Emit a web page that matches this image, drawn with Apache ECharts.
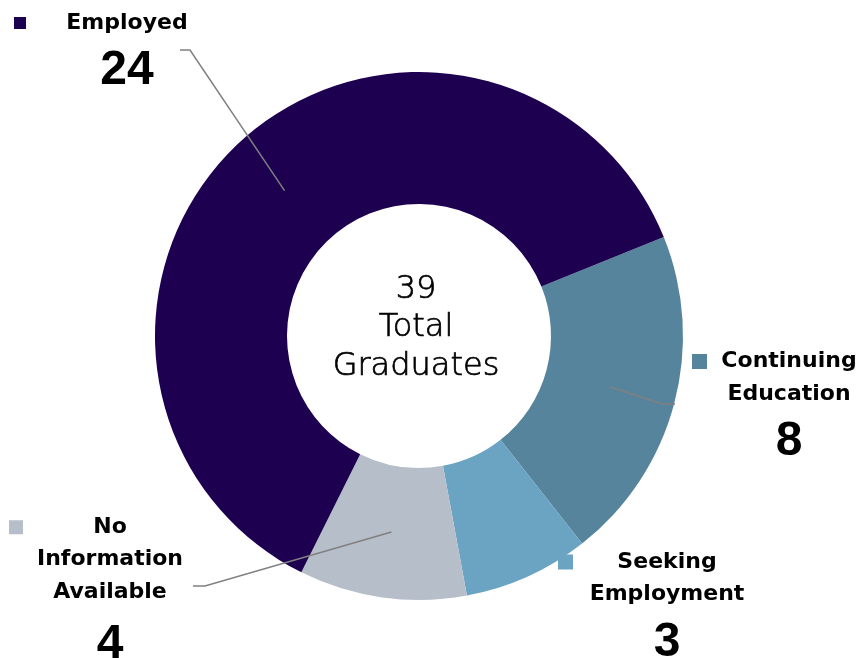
<!DOCTYPE html>
<html><head><meta charset="utf-8">
<script src="https://cdn.jsdelivr.net/npm/echarts@6/dist/echarts.min.js"></script>
<style>html,body{margin:0;padding:0;background:#fff}#c{width:862px;height:658px}</style>
</head><body><div id="c"></div>
<script>
// ---- data ----
const categories = ['Continuing Education', 'Seeking Employment', 'No Information Available', 'Employed'];
const labelLinesText = [['Continuing', 'Education'], ['Seeking', 'Employment'], ['No', 'Information', 'Available'], ['Employed']];
const values = [8, 3, 4, 24];
const centerCaption = ['Total', 'Graduates'];

// ---- style / layout (not data) ----
const colors = ['#56849c', '#6aa4c2', '#b6bec9', '#1e0050'];
const CX = 419, CY = 336, R0 = 132, R1 = 264, START = 22;
const boxes = [
  { x: 692, y: 345, sq: 15, gap: 2, w: 160, L: 33, LN: 61, elbow: [[662, 404], [675, 404]] },
  { x: 558, y: 546, sq: 15, gap: 9, w: 170, L: 32, LN: 65, elbow: null },
  { x: 9, y: 511, sq: 14, gap: 2, w: 170, L: 32.5, LN: 73, elbow: [[205, 586], [193, 586]] },
  { x: 14, y: 6, sq: 12, gap: 16, w: 170, L: 34, LN: 62, elbow: [[190, 50], [180, 50]] }
];

const total = values.reduce((a, b) => a + b, 0);
const FONT = '"DejaVu Sans", sans-serif';

function midPoint(i) {
  let cum = 0;
  for (let k = 0; k < i; k++) cum += values[k];
  const a = (START - (cum + values[i] / 2) / total * 360) * Math.PI / 180;
  const rm = (R0 + R1) / 2;
  return [CX + rm * Math.cos(a), CY - rm * Math.sin(a)];
}

const data = categories.map((name, i) => {
  const b = boxes[i];
  const lines = labelLinesText[i];
  let f = '{sq|}{g|}{t|' + lines[0] + '}';
  for (let k = 1; k < lines.length; k++) f += '\n{sp|}{t|' + lines[k] + '}';
  f += '\n{sp|}{n|' + values[i] + '}';
  return {
    name: name,
    value: values[i],
    itemStyle: { color: colors[i] },
    label: {
      formatter: f,
      rich: {
        sq: { width: b.sq, height: b.sq, backgroundColor: colors[i], lineHeight: b.L },
        g: { width: b.gap, lineHeight: b.L },
        sp: { width: b.sq + b.gap },
        t: { width: b.w, align: 'center', fontSize: 22, fontWeight: 'bold', fontFamily: FONT, color: '#000', lineHeight: b.L },
        n: { width: b.w, align: 'center', fontSize: 48, fontWeight: 'bold', fontFamily: '"Liberation Sans", Arial, sans-serif', color: '#000', lineHeight: b.LN }
      }
    }
  };
});

// leader lines drawn on top of the ring, starting at each slice's mid-ring point
const leaders = [];
boxes.forEach((b, i) => {
  if (!b.elbow) return;
  leaders.push({
    type: 'polyline', z: 100, silent: true,
    shape: { points: [midPoint(i), b.elbow[0], b.elbow[1]] },
    style: { stroke: '#808080', lineWidth: 1.5, fill: null }
  });
});

const chart = echarts.init(document.getElementById('c'), null, { renderer: 'canvas' });
chart.setOption({
  animation: false,
  backgroundColor: '#fff',
  title: {
    text: total + '\n' + centerCaption.join('\n'),
    left: 411, top: 265,
    textAlign: 'center',
    textStyle: { fontFamily: FONT, fontWeight: 200, fontSize: 32, lineHeight: 38.7, color: '#000',
                 textBorderColor: '#000', textBorderWidth: 0.7 }
  },
  graphic: leaders,
  series: [{
    type: 'pie',
    center: [CX, CY],
    radius: [R0, R1],
    startAngle: START,
    clockwise: true,
    avoidLabelOverlap: false,
    silent: true,
    label: { show: true, position: 'outside' },
    labelLine: { show: false },
    labelLayout: function (p) {
      const b = boxes[p.dataIndex];
      return { x: b.x, y: b.y, align: 'left', verticalAlign: 'top' };
    },
    data: data
  }]
});
</script></body></html>
